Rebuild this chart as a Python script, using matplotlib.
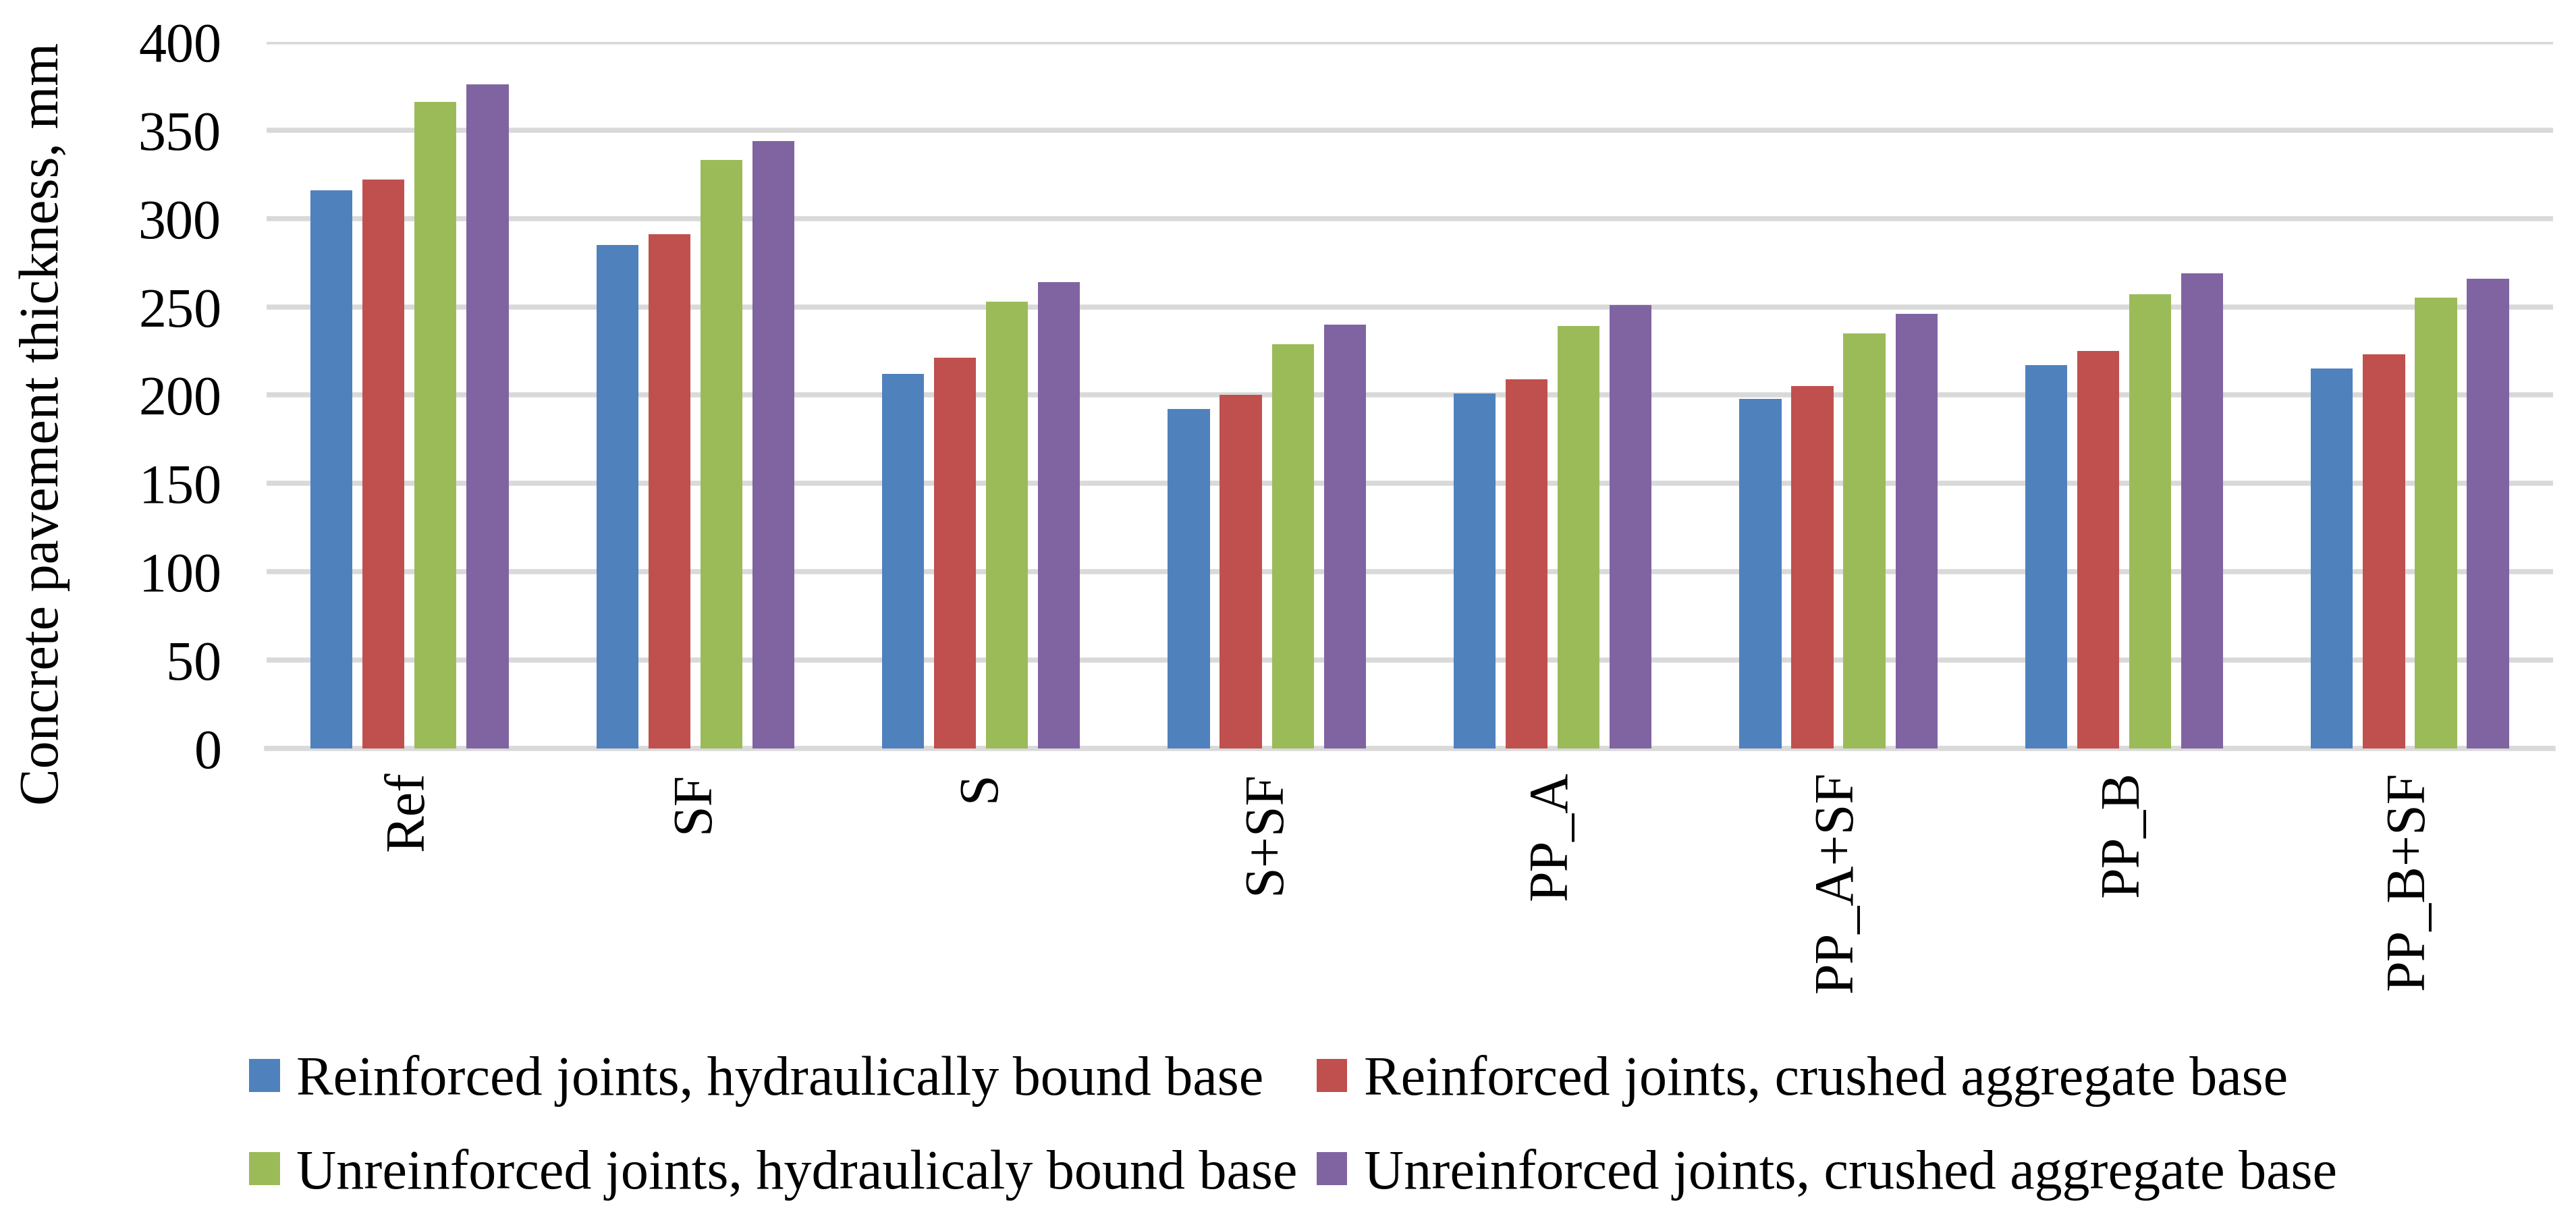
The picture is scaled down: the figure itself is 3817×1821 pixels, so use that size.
import numpy as np
from matplotlib import pyplot as plt

categories = ["Ref", "SF", "S", "S+SF", "PP_A", "PP_A+SF", "PP_B", "PP_B+SF"]

series_names = ["Reinforced joints, hydraulically bound base",
                "Reinforced joints, crushed aggregate base",
                "Unreinforced joints, hydraulicaly bound base",
                "Unreinforced joints, crushed aggregate base"]

reinf_hydraulic = [316, 285, 212, 192, 201, 198, 217, 215]
reinf_crushed = [322, 291, 221, 200, 209, 205, 225, 223]
unreinf_hydraulic = [366, 333, 253, 229, 239, 235, 257, 255]
unreinf_crushed = [376, 344, 264, 240, 251, 246, 269, 266]

colors = ["#4F81BD", "#C0504D", "#9BBB59", "#8064A2"]

plt.rcParams['font.family'] = ['Liberation Serif', 'DejaVu Serif']
fs = 29.5

fig = plt.figure(figsize=(19.085, 9.105), dpi=200)
ax = fig.add_axes([0.1035, 0.391, 0.8875, 0.575])

x = np.arange(len(categories))
width = 0.147
step = 0.182
data = [reinf_hydraulic, reinf_crushed, unreinf_hydraulic, unreinf_crushed]
bars = []
for i, vals in enumerate(data):
    b = ax.bar(x + (i - 1.5) * step, vals, width, color=colors[i],
               label=series_names[i], zorder=3)
    bars.append(b)

ax.set_xlim(-0.5, len(categories) - 0.5)
ax.set_ylim(0, 400)
ax.set_yticks(np.arange(0, 401, 50))
ax.set_xticks(x)
ax.set_xticklabels(categories, rotation=90)
ax.grid(axis='y', color="#D9D9D9", linewidth=2.7, zorder=0)
ax.set_axisbelow(True)
for s in ['top', 'right', 'left']:
    ax.spines[s].set_visible(False)
ax.spines['bottom'].set_color("#D9D9D9")
ax.spines['bottom'].set_linewidth(2.7)
ax.tick_params(axis='y', length=0, pad=24, labelsize=fs)
ax.tick_params(axis='x', length=0, pad=12, labelsize=fs)

fig.text(66 / 3817, 1 - 628 / 1821, "Concrete pavement thickness, mm",
         rotation=90, ha='center', va='center', fontsize=fs)

# row-wise order for the 2-column legend
order = [0, 2, 1, 3]
fig.legend([bars[i] for i in order], [series_names[i] for i in order],
           loc='center', bbox_to_anchor=(0.502, 0.0824), ncol=2,
           frameon=False, fontsize=fs, handlelength=0.55, handleheight=0.55,
           handletextpad=0.3, columnspacing=0.35, labelspacing=0.75)

plt.savefig("out.png", dpi=200)
